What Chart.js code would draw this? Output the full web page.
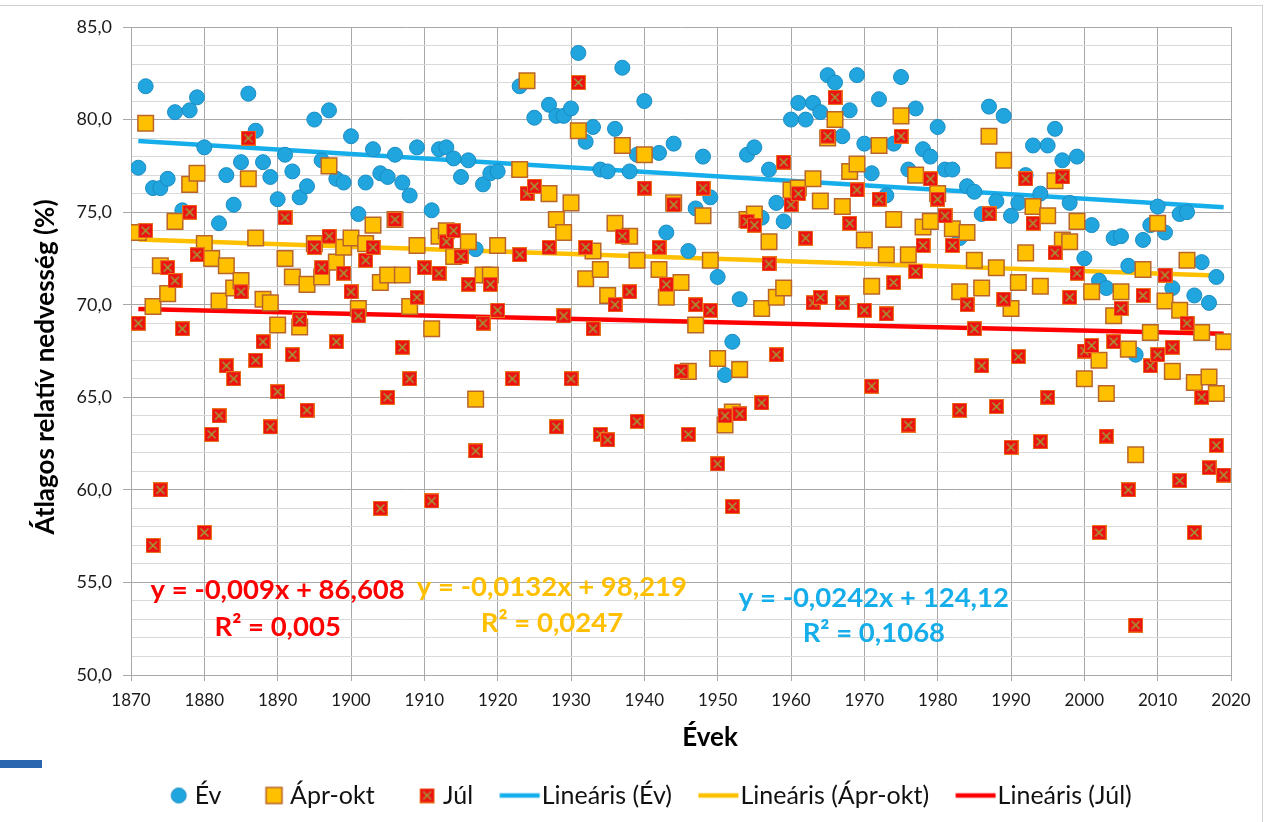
<!DOCTYPE html>
<html>
<head>
<meta charset="utf-8">
<script src="https://cdn.jsdelivr.net/npm/chart.js@4.4.1/dist/chart.umd.min.js"></script>
<style>
  html, body { margin: 0; padding: 0; background: #fff; }
  #wrap { position: relative; width: 1274px; height: 822px; overflow: hidden; background: #fff; }
  #frame { position: absolute; left: -2px; top: 5px; width: 1264px; height: 900px;
           border-top: 1px solid #d0d0d0; border-right: 1px solid #d0d0d0; }
  #tab { position: absolute; left: 0; top: 760px; width: 42px; height: 8px; background: #2a66b0; }
  canvas { position: absolute; left: 0; top: 0; }
</style>
</head>
<body>
<div id="wrap">
  <div id="frame"></div>
  <div id="tab"></div>
  <canvas id="c" width="1274" height="822"></canvas>
</div>
<script>
// Years of observation
const years = [
  1871,1872,1873,1874,1875,1876,1877,1878,1879,1880,
  1881,1882,1883,1884,1885,1886,1887,1888,1889,1890,
  1891,1892,1893,1894,1895,1896,1897,1898,1899,1900,
  1901,1902,1903,1904,1905,1906,1907,1908,1909,1910,
  1911,1912,1913,1914,1915,1916,1917,1918,1919,1920,
  1921,1922,1923,1924,1925,1926,1927,1928,1929,1930,
  1931,1932,1933,1934,1935,1936,1937,1938,1939,1940,
  1941,1942,1943,1944,1945,1946,1947,1948,1949,1950,
  1951,1952,1953,1954,1955,1956,1957,1958,1959,1960,
  1961,1962,1963,1964,1965,1966,1967,1968,1969,1970,
  1971,1972,1973,1974,1975,1976,1977,1978,1979,1980,
  1981,1982,1983,1984,1985,1986,1987,1988,1989,1990,
  1991,1992,1993,1994,1995,1996,1997,1998,1999,2000,
  2001,2002,2003,2004,2005,2006,2007,2008,2009,2010,
  2011,2012,2013,2014,2015,2016,2017,2018,2019
];

// Annual mean relative humidity (%)
const ev = [
  77.4,81.8,76.3,76.3,76.8,80.4,75.1,80.5,81.2,78.5,
  null,74.4,77.0,75.4,77.7,81.4,79.4,77.7,76.9,75.7,
  78.1,77.2,75.8,76.4,80.0,77.8,80.5,76.8,76.6,79.1,
  74.9,76.6,78.4,77.1,76.9,78.1,76.6,75.9,78.5,null,
  75.1,78.4,78.5,77.9,76.9,77.8,73.0,76.5,77.1,77.2,
  null,null,81.8,null,80.1,null,80.8,80.2,80.2,80.6,
  83.6,78.8,79.6,77.3,77.2,79.5,82.8,77.2,78.1,81.0,
  null,78.2,73.9,78.7,null,72.9,75.2,78.0,75.8,71.5,
  66.2,68.0,70.3,78.1,78.5,74.7,77.3,75.5,74.5,80.0,
  80.9,80.0,80.9,80.4,82.4,82.0,79.1,80.5,82.4,78.7,
  77.1,81.1,75.9,78.7,82.3,77.3,80.6,78.4,78.0,79.6,
  77.3,77.3,73.6,76.4,76.1,74.9,80.7,75.6,80.2,74.8,
  75.5,77.0,78.6,76.0,78.6,79.5,77.8,75.5,78.0,72.5,
  74.3,71.3,70.9,73.6,73.7,72.1,67.3,73.5,74.3,75.3,
  73.9,70.9,74.9,75.0,70.5,72.3,70.1,71.5,null
];

// April-October mean relative humidity (%)
const aprOkt = [
  73.9,79.8,69.9,72.1,70.6,74.5,null,76.5,77.1,73.3,
  72.5,70.2,72.1,70.9,71.3,76.8,73.6,70.3,70.1,68.9,
  72.5,71.5,68.8,71.1,73.3,71.5,77.5,72.3,73.1,73.6,
  69.8,73.3,74.3,71.2,71.6,74.6,71.6,69.9,73.2,null,
  68.7,73.7,74.0,72.6,null,73.4,64.9,71.6,71.6,73.2,
  null,null,77.3,82.1,null,null,76.0,74.6,73.9,75.5,
  79.4,71.4,72.9,71.9,70.5,74.4,78.6,73.7,72.4,78.1,
  null,71.9,70.4,75.5,71.2,66.4,68.9,74.8,72.4,67.1,
  63.5,64.2,66.5,74.6,74.9,69.8,73.4,70.4,70.9,76.2,
  76.3,null,76.8,75.6,79.0,80.0,75.3,77.2,77.6,73.5,
  71.0,78.6,72.7,74.6,80.2,72.7,77.0,74.2,74.5,76.0,
  null,74.1,70.7,73.9,72.4,70.9,79.1,72.0,77.8,69.8,
  71.2,72.8,75.3,71.0,74.8,76.7,73.5,73.4,74.5,66.0,
  70.7,67.0,65.2,69.4,70.7,67.6,61.9,71.9,68.5,74.4,
  70.2,66.4,69.7,72.4,65.8,68.5,66.1,65.2,68.0
];

// July mean relative humidity (%)
const jul = [
  69.0,74.0,57.0,60.0,72.0,71.3,68.7,75.0,72.7,57.7,
  63.0,64.0,66.7,66.0,70.7,79.0,67.0,68.0,63.4,65.3,
  74.7,67.3,69.2,64.3,73.1,72.0,73.7,68.0,71.7,70.7,
  69.4,72.4,73.1,59.0,65.0,74.6,67.7,66.0,70.4,72.0,
  59.4,71.7,73.4,74.0,72.6,71.1,62.1,69.0,71.1,69.7,
  null,66.0,72.7,76.0,76.4,null,73.1,63.4,69.4,66.0,
  82.0,73.1,68.7,63.0,62.7,70.0,73.7,70.7,63.7,76.3,
  null,73.1,71.1,75.4,66.4,63.0,70.0,76.3,69.7,61.4,
  64.0,59.1,64.1,74.5,74.3,64.7,72.2,67.3,77.7,75.4,
  76.0,73.6,70.1,70.4,79.1,81.2,70.1,74.4,76.2,69.7,
  65.6,75.7,69.5,71.2,79.1,63.5,71.8,73.2,76.8,75.7,
  74.8,73.2,64.3,70.0,68.7,66.7,74.9,64.5,70.3,62.3,
  67.2,76.8,74.4,62.6,65.0,72.8,76.9,70.4,71.7,67.5,
  67.8,57.7,62.9,68.0,69.8,60.0,52.7,70.5,66.7,67.3,
  71.6,67.7,60.5,69.0,57.7,65.0,61.2,62.4,60.8
];

// Linear trends: [slope, intercept]
const fitEv     = [-0.0242, 124.12];
const fitAprOkt = [-0.0132, 98.219];
const fitJul    = [-0.009, 86.608];

// Trend equation labels
const eqEv     = ['y = -0,0242x + 124,12', 'R² = 0,1068'];
const eqAprOkt = ['y = -0,0132x + 98,219', 'R² = 0,0247'];
const eqJul    = ['y = -0,009x + 86,608', 'R² = 0,005'];

// Axis ticks
const xTicks = [1870,1880,1890,1900,1910,1920,1930,1940,1950,1960,1970,1980,1990,2000,2010,2020];
const yTickLabels = { 50: '50,0', 55: '55,0', 60: '60,0', 65: '65,0', 70: '70,0', 75: '75,0', 80: '80,0', 85: '85,0' };

const seriesNames = ['Év', 'Ápr-okt', 'Júl', 'Lineáris (Év)', 'Lineáris (Ápr-okt)', 'Lineáris (Júl)'];

// ---- styling ----
const C_EV = '#21a5df', C_EV_EDGE = '#1a8cc2';
const C_APR = '#ffc000', C_APR_EDGE = '#b9652a';
const C_JUL = '#ee1111', C_JUL_EDGE = '#e8751c', C_JUL_X = '#9d9f3a';
const C_TR_EV = '#16aeea', C_TR_APR = '#ffc000', C_TR_JUL = '#ff0000';
const FONT = 'Lato, "Open Sans", sans-serif';
const LEGEND_SIZE = 25;

function toPoints(vals) {
  const out = [];
  vals.forEach((v, i) => { if (v !== null) out.push({ x: years[i], y: v }); });
  return out;
}
function trendPoints(fit) {
  const x0 = years[0], x1 = years[years.length - 1];
  return [{ x: x0, y: fit[0] * x0 + fit[1] }, { x: x1, y: fit[0] * x1 + fit[1] }];
}

// July marker: red square with an olive cross
function julMarker() {
  const s = 15, c = document.createElement('canvas');
  c.width = s; c.height = s;
  const g = c.getContext('2d');
  g.fillStyle = C_JUL; g.fillRect(0.5, 0.5, s - 1, s - 1);
  g.strokeStyle = C_JUL_EDGE; g.lineWidth = 1; g.strokeRect(0.5, 0.5, s - 1, s - 1);
  g.strokeStyle = C_JUL_X; g.lineWidth = 1.5;
  g.beginPath(); g.moveTo(3.5, 3.5); g.lineTo(s - 3.5, s - 3.5);
  g.moveTo(s - 3.5, 3.5); g.lineTo(3.5, s - 3.5); g.stroke();
  return c;
}
const julImg = julMarker();

// Legend symbols, drawn into wide canvases so markers and lines sit right next to the text.
// The canvas is centred 20px into the 40px legend box; text starts 40 + size/2 px after the box start.
function legendIcon(draw) {
  const c = document.createElement('canvas');
  c.width = 96; c.height = 26;
  draw(c.getContext('2d'));
  return c;
}
const TXT = 28 + 40 + LEGEND_SIZE / 2;   // text start inside the icon canvas
const MX = TXT - 16, MY = 13;
const iconEv = legendIcon(g => {
  g.fillStyle = C_EV; g.strokeStyle = C_EV_EDGE; g.lineWidth = 1;
  g.beginPath(); g.arc(MX, MY, 7.5, 0, Math.PI * 2); g.fill(); g.stroke();
});
const iconApr = legendIcon(g => {
  g.fillStyle = C_APR; g.strokeStyle = C_APR_EDGE; g.lineWidth = 1.5;
  g.fillRect(MX - 8, MY - 8, 16, 16); g.strokeRect(MX - 8, MY - 8, 16, 16);
});
const iconJul = legendIcon(g => { g.drawImage(julImg, MX - 7.5, MY - 7.5); });
const iconLine = col => legendIcon(g => {
  g.strokeStyle = col; g.lineWidth = 4.5;
  g.beginPath(); g.moveTo(TXT - 42, MY); g.lineTo(TXT - 2, MY); g.stroke();
});
const legendIcons = [iconEv, iconApr, iconJul, iconLine(C_TR_EV), iconLine(C_TR_APR), iconLine(C_TR_JUL)];

// Axis titles and trend equations
const textPlugin = {
  id: 'chartTexts',
  afterDraw(chart) {
    const { ctx, scales: { x, y } } = chart;
    ctx.save();
    ctx.textAlign = 'center';
    ctx.textBaseline = 'middle';
    ctx.fillStyle = '#000';
    ctx.font = 'bold 26px ' + FONT;
    ctx.fillText('Évek', 710, 738);
    ctx.save();
    ctx.translate(46, 367);
    ctx.rotate(-Math.PI / 2);
    ctx.fillText('Átlagos relatív nedvesség (%)', 0, 0);
    ctx.restore();

    ctx.font = 'bold 27.5px ' + FONT;
    const eqs = [
      { lines: eqJul, col: C_TR_JUL, at: [1890.0, 54.6, 52.6] },
      { lines: eqAprOkt, col: C_TR_APR, at: [1927.4, 54.75, 52.8] },
      { lines: eqEv, col: C_TR_EV, at: [1971.3, 54.15, 52.25] }
    ];
    eqs.forEach(e => {
      ctx.fillStyle = e.col;
      const px = x.getPixelForValue(e.at[0]);
      ctx.fillText(e.lines[0], px, y.getPixelForValue(e.at[1]));
      ctx.fillText(e.lines[1], px, y.getPixelForValue(e.at[2]));
    });
    ctx.restore();
  }
};

const chart = new Chart(document.getElementById('c'), {
  type: 'scatter',
  data: {
    datasets: [
      { label: seriesNames[0], data: toPoints(ev), order: 2,
        pointStyle: 'circle', pointRadius: 7.5, pointHoverRadius: 7.5,
        backgroundColor: C_EV, borderColor: C_EV_EDGE, pointBorderWidth: 1 },
      { label: seriesNames[1], data: toPoints(aprOkt), order: 1,
        pointStyle: 'rect', pointRadius: 11, pointHoverRadius: 11,
        backgroundColor: C_APR, borderColor: C_APR_EDGE, pointBorderWidth: 1.5 },
      { label: seriesNames[2], data: toPoints(jul), order: 0,
        pointStyle: julImg, pointRadius: 7.5, pointHoverRadius: 7.5,
        backgroundColor: C_JUL, borderColor: C_JUL_EDGE },
      { label: seriesNames[3], data: trendPoints(fitEv), order: 5, showLine: true,
        borderColor: C_TR_EV, borderWidth: 4.5, pointRadius: 0, pointHoverRadius: 0 },
      { label: seriesNames[4], data: trendPoints(fitAprOkt), order: 4, showLine: true,
        borderColor: C_TR_APR, borderWidth: 4.5, pointRadius: 0, pointHoverRadius: 0 },
      { label: seriesNames[5], data: trendPoints(fitJul), order: 3, showLine: true,
        borderColor: C_TR_JUL, borderWidth: 4.5, pointRadius: 0, pointHoverRadius: 0 }
    ]
  },
  options: {
    responsive: false,
    animation: false,
    events: [],
    layout: { padding: { left: 0, right: 0, top: 27, bottom: 4 } },
    scales: {
      x: {
        type: 'linear', min: 1870, max: 2020,
        afterBuildTicks: s => { s.ticks = xTicks.map(v => ({ value: v })); },
        afterFit: s => { s.height = 92; },
        ticks: { autoSkip: false, maxRotation: 0, padding: 9, color: '#1a1a1a',
                 font: { family: FONT, size: 17 }, callback: v => String(v) },
        grid: { color: '#a8a8a8', lineWidth: 1, tickLength: 6, tickColor: '#a8a8a8' },
        border: { color: '#a8a8a8' }
      },
      y: {
        type: 'linear', min: 50, max: 85, position: 'left',
        afterBuildTicks: s => {
          const t = [];
          for (let v = 50; v <= 85; v++) t.push({ value: v });
          s.ticks = t;
        },
        afterFit: s => { s.width = 131; },
        ticks: { autoSkip: false, padding: 11, color: '#1a1a1a',
                 font: { family: FONT, size: 18 },
                 callback: v => yTickLabels[v] || '' },
        grid: {
          color: c => (c.tick && c.tick.value % 5 === 0) ? '#a8a8a8' : '#d9d9d9',
          tickColor: c => (c.tick && c.tick.value % 5 === 0) ? '#a8a8a8' : 'rgba(0,0,0,0)',
          lineWidth: 1, tickLength: 8
        },
        border: { color: '#a8a8a8' }
      },
      yR: {
        type: 'linear', position: 'right', display: true, min: 0, max: 1,
        afterFit: s => { s.width = 43; },
        ticks: { display: false }, grid: { display: false }, border: { display: false }
      }
    },
    plugins: {
      tooltip: { enabled: false },
      legend: {
        position: 'bottom',
        labels: {
          usePointStyle: true,
          pointStyleWidth: 40,
          padding: 16,
          color: '#111',
          font: { family: FONT, size: LEGEND_SIZE },
          generateLabels: ch => ch.data.datasets.map((ds, i) => ({
            text: ds.label, pointStyle: legendIcons[i], datasetIndex: i,
            hidden: false, lineWidth: 0, fillStyle: 'rgba(0,0,0,0)',
            strokeStyle: 'rgba(0,0,0,0)', fontColor: '#111'
          }))
        }
      }
    }
  },
  plugins: [textPlugin]
});
</script>
</body>
</html>
